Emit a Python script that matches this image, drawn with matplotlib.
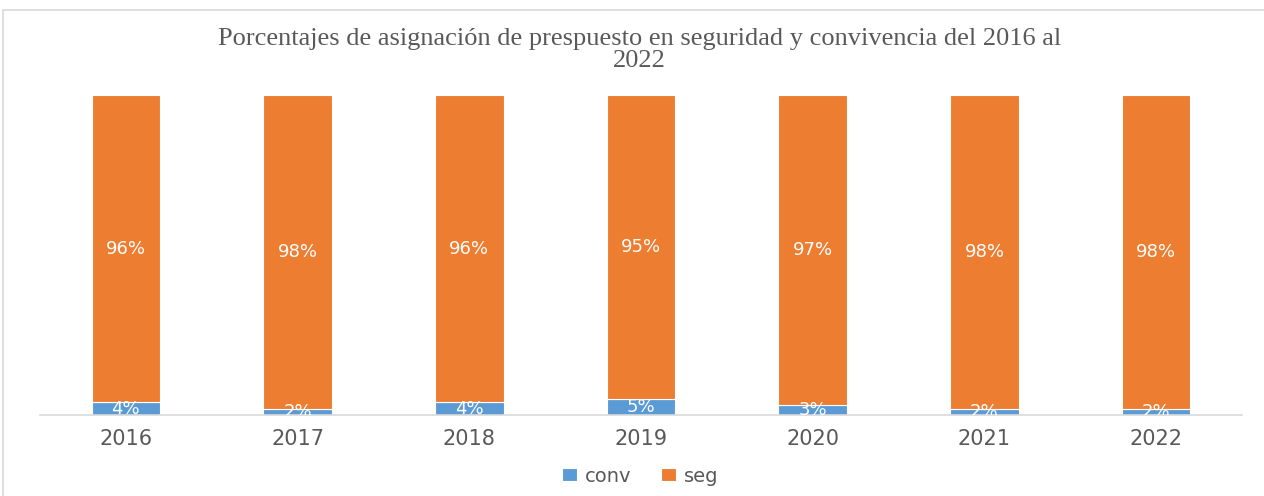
import matplotlib
matplotlib.use("Agg")
import matplotlib.pyplot as plt
import numpy as np
from matplotlib.patches import Rectangle

years = ["2016", "2017", "2018", "2019", "2020", "2021", "2022"]
conv = [4, 2, 4, 5, 3, 2, 2]
seg = [96, 98, 96, 95, 97, 98, 98]

BLUE = "#5B9BD5"
ORANGE = "#ED7D31"
TXT = "#595959"

fig = plt.figure(figsize=(12.64, 4.96), dpi=100)
ax = fig.add_axes([40 / 1264, 81 / 496, 1202 / 1264, 320 / 496])

x = np.arange(len(years))
tot = np.array(conv) + np.array(seg)
conv_f = np.array(conv) / tot
seg_f = np.array(seg) / tot
w = 0.4

ax.bar(x, conv_f, w, color=BLUE, edgecolor="white", linewidth=0.8, label="conv")
ax.bar(x, seg_f, w, bottom=conv_f, color=ORANGE, edgecolor="white",
       linewidth=0.8, label="seg")

for i in range(len(years)):
    ax.text(x[i], conv_f[i] / 2, f"{conv[i]}%", color="white", fontsize=13,
            ha="center", va="center", clip_on=True)
    ax.text(x[i], conv_f[i] + seg_f[i] / 2, f"{seg[i]}%", color="white",
            fontsize=13, ha="center", va="center")

ax.set_xlim(-0.5, len(years) - 0.5)
ax.set_ylim(0, 1)
ax.set_xticks(x)
ax.set_xticklabels(years, fontsize=15, color=TXT)
ax.tick_params(axis="x", length=0, pad=10)
ax.set_yticks([])
for s in ["top", "right", "left"]:
    ax.spines[s].set_visible(False)
ax.spines["bottom"].set_color("#D9D9D9")
ax.spines["bottom"].set_linewidth(1.2)

fig.text(0.506, 1 - 39 / 496,
         "Porcentajes de asignación de prespuesto en seguridad y convivencia del 2016 al",
         family="Liberation Serif", fontsize=19, color=TXT, ha="center", va="center")
fig.text(0.506, 1 - 61 / 496, "2022",
         family="Liberation Serif", fontsize=19, color=TXT, ha="center", va="center")

fig.legend(loc="center", bbox_to_anchor=(640 / 1264, 1 - 476 / 496), ncol=2,
           frameon=False, fontsize=14, handlelength=0.8, handleheight=0.6,
           columnspacing=1.5, handletextpad=0.4, labelcolor=TXT)

fig.patches.append(Rectangle((3 / 1264, -0.1), 1.1, 1.1 - 10 / 496,
                             transform=fig.transFigure, fill=False,
                             edgecolor="#D9D9D9", linewidth=1.2))

fig.savefig("out.png", dpi=100)
